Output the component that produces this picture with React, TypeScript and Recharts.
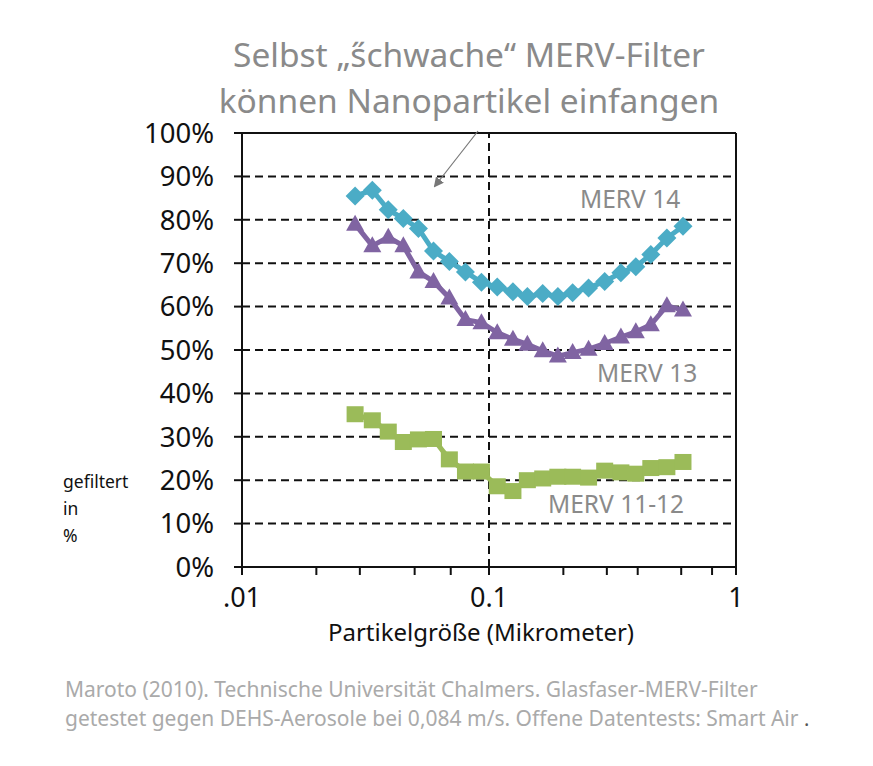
import React from "react";
import {
  ScatterChart,
  Scatter,
  XAxis,
  YAxis,
  CartesianGrid,
  ReferenceLine,
} from "recharts";

// Particle sizes (µm) at which every filter was measured
const sizes = [
  0.0287, 0.0337, 0.0391, 0.045, 0.0518, 0.0596, 0.0691, 0.0803, 0.0932, 0.108,
  0.125, 0.143, 0.165, 0.19, 0.218, 0.253, 0.294, 0.342, 0.393, 0.452, 0.525, 0.61,
];

// Filtration efficiency in percent
const merv14 = [
  85.5, 86.8, 82.3, 80.3, 78, 72.8, 70.4, 68, 65.6, 64.5, 63.4, 62.3, 63, 62.3,
  63.2, 64.3, 65.8, 67.8, 69.2, 72, 75.8, 78.5,
];
const merv13 = [
  79, 74, 76, 74, 68, 65.8, 62, 57, 56.3, 54, 52.5, 51.3, 49.8, 48.6, 49.4, 50.2,
  51.5, 53, 54.2, 55.8, 60.2, 59.2,
];
const merv1112 = [
  35.2, 33.8, 31.2, 28.8, 29.4, 29.5, 24.8, 22, 22, 18.6, 17.5, 20, 20.4, 20.8,
  20.8, 20.6, 22.2, 21.8, 21.5, 22.8, 23, 24.2,
];

const xTicks = [
  0.01, 0.02, 0.03, 0.04, 0.05, 0.06, 0.07, 0.08, 0.09, 0.1, 0.2, 0.3, 0.4, 0.5,
  0.6, 0.7, 0.8, 0.9, 1,
];
const xTickLabels: Record<string, string> = { "0.01": ".01", "0.1": "0.1", "1": "1" };
const yTicks = [0, 10, 20, 30, 40, 50, 60, 70, 80, 90, 100];

const titleLines = ["Selbst „s\u030Bchwache“ MERV-Filter", "können Nanopartikel einfangen"];
const sourceLines = [
  "Maroto (2010). Technische Universität Chalmers. Glasfaser-MERV-Filter",
  "getestet gegen DEHS-Aerosole bei 0,084 m/s. Offene Datentests: Smart Air",
];
const yTitleLines = ["gefiltert", "in", "%"];

const BLUE = "#4BACC6";
const PURPLE = "#8064A2";
const GREEN = "#9BBB59";
const INK = "#111";
const GREY = "#8a8a8a";
const FONT = "'Noto Sans', 'Open Sans', sans-serif";

const toPoints = (vals: number[]) => sizes.map((s, i) => ({ size: s, value: vals[i] }));

const Diamond = (p: any) => {
  const { cx, cy } = p;
  const r = 9.5;
  return (
    <path
      d={`M${cx},${cy - r}L${cx + r},${cy}L${cx},${cy + r}L${cx - r},${cy}Z`}
      fill={BLUE}
    />
  );
};
const Triangle = (p: any) => {
  const { cx, cy } = p;
  return (
    <path
      d={`M${cx},${cy - 9.5}L${cx + 9},${cy + 6.5}L${cx - 9},${cy + 6.5}Z`}
      fill={PURPLE}
    />
  );
};
const Square = (p: any) => {
  const { cx, cy } = p;
  return <rect x={cx - 8.5} y={cy - 8} width={17} height={16} fill={GREEN} />;
};

const XTick = (p: any) => {
  const { x, y, payload } = p;
  const label = xTickLabels[String(payload.value)];
  if (!label) return null;
  return (
    <text
      x={x}
      y={y}
      dy="0.71em"
      textAnchor="middle"
      fill={INK}
      fontSize={27}
      fontFamily={FONT}
    >
      {label}
    </text>
  );
};

export default function App() {
  return (
    <div style={{ position: "absolute", left: 0, top: 0, width: 873, height: 766, background: "#fff" }}>
      <ScatterChart
        width={873}
        height={766}
        margin={{ top: 133, right: 137, bottom: 159, left: 142 }}
      >
        <CartesianGrid
          vertical={false}
          stroke={INK}
          strokeWidth={2}
          strokeDasharray="8 5"
        />
        <XAxis
          type="number"
          dataKey="size"
          scale="log"
          domain={[0.01, 1]}
          ticks={xTicks}
          allowDataOverflow
          height={40}
          tickSize={8}
          tickMargin={13}
          tick={<XTick />}
          axisLine={{ stroke: INK, strokeWidth: 2 }}
          tickLine={{ stroke: INK, strokeWidth: 2 }}
        />
        <YAxis
          type="number"
          dataKey="value"
          domain={[0, 100]}
          ticks={yTicks}
          width={100}
          tickSize={8}
          tickMargin={20}
          tickFormatter={(v: number) => `${v}%`}
          tick={{ fill: INK, fontSize: 27.5, fontFamily: FONT }}
          axisLine={{ stroke: INK, strokeWidth: 2 }}
          tickLine={{ stroke: INK, strokeWidth: 2 }}
        />
        <ReferenceLine x={0.1} stroke={INK} strokeWidth={2} strokeDasharray="8 5" />
        <ReferenceLine x={1} stroke={INK} strokeWidth={2} />
        <ReferenceLine y={100} stroke={INK} strokeWidth={2} />
        <Scatter
          data={toPoints(merv1112)}
          shape={Square}
          line={{ stroke: GREEN, strokeWidth: 5 }}
          isAnimationActive={false}
        />
        <Scatter
          data={toPoints(merv13)}
          shape={Triangle}
          line={{ stroke: PURPLE, strokeWidth: 5 }}
          isAnimationActive={false}
        />
        <Scatter
          data={toPoints(merv14)}
          shape={Diamond}
          line={{ stroke: BLUE, strokeWidth: 5 }}
          isAnimationActive={false}
        />
      </ScatterChart>
      <svg
        width={873}
        height={766}
        style={{ position: "absolute", left: 0, top: 0, pointerEvents: "none" }}
      >
        <defs>
          <marker id="arrowHead" markerWidth="10" markerHeight="10" refX="8" refY="5" orient="auto" markerUnits="userSpaceOnUse">
            <path d="M0,0L10,5L0,10Z" fill="#777" />
          </marker>
        </defs>
        {titleLines.map((t, i) => (
          <text key={t} x={469} y={67 + i * 46} textAnchor="middle" fill={GREY} fontSize={33.5} fontFamily={FONT}>
            {t}
          </text>
        ))}
        <line x1={478} y1={131} x2={435} y2={186} stroke="#777" strokeWidth={1.2} markerEnd="url(#arrowHead)" />
        <text x={580} y={208} fill={GREY} fontSize={24.5} fontFamily={FONT}>MERV 14</text>
        <text x={597} y={382} fill={GREY} fontSize={24.5} fontFamily={FONT}>MERV 13</text>
        <text x={548} y={513} fill={GREY} fontSize={24.5} fontFamily={FONT}>MERV 11-12</text>
        {yTitleLines.map((t, i) => (
          <text key={t} x={63} y={488 + i * 27} fill={INK} fontSize={17.5} fontFamily={FONT}>
            {t}
          </text>
        ))}
        <text x={481} y={641} textAnchor="middle" fill={INK} fontSize={24} fontFamily={FONT}>
          Partikelgröße (Mikrometer)
        </text>
        {sourceLines.map((t, i) => (
          <text key={t} x={65} y={697 + i * 29} fill="#aaa" fontSize={21} fontFamily={FONT}>
            {t}
          </text>
        ))}
        <text x={804} y={726} fill="#555" fontSize={20} fontFamily={FONT}>.</text>
      </svg>
    </div>
  );
}
